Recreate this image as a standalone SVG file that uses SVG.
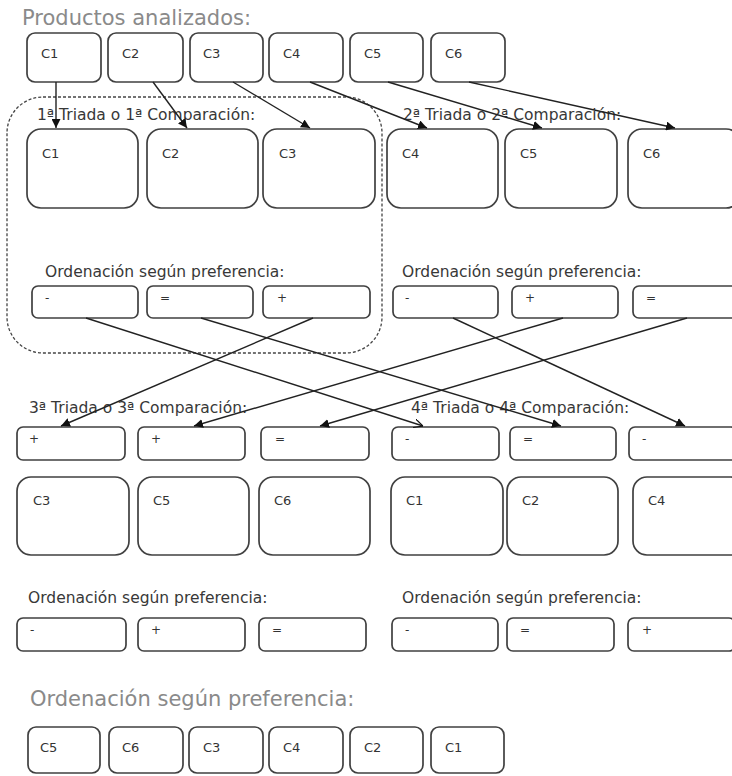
<svg xmlns="http://www.w3.org/2000/svg" width="732" height="776" viewBox="0 0 732 776">
<defs>
<style>
.box{fill:#fff;stroke:#404040;stroke-width:1.7}
.lbl{font-family:"DejaVu Sans",Verdana,sans-serif;font-size:13px;fill:#333}
.sym{font-family:"DejaVu Sans",Verdana,sans-serif;font-size:12px;fill:#333}
.hdr{font-family:"DejaVu Sans",Verdana,sans-serif;font-size:15.5px;fill:#383838}
.big{font-family:"DejaVu Sans",Verdana,sans-serif;font-size:21px;fill:#8a8a8a}
.con{stroke:#222;stroke-width:1.4;fill:none}
.grp{fill:none;stroke:#444;stroke-width:1.3;stroke-dasharray:3 2}
</style>
<marker id="ah" viewBox="0 0 10 10" refX="10" refY="5" markerWidth="9" markerHeight="9" markerUnits="userSpaceOnUse" orient="auto">
<path d="M0,0 L10,5 L0,10 z" fill="#111"/>
</marker>
<marker id="ao" viewBox="0 0 10 10" refX="10" refY="5" markerWidth="9" markerHeight="9" markerUnits="userSpaceOnUse" orient="auto">
<path d="M0,0 L10,5 L0,10" fill="none" stroke="#111" stroke-width="1.3"/>
</marker>
</defs>
<rect width="732" height="776" fill="#fff"/>

<text class="big" x="22" y="25">Productos analizados:</text>
<g id="p1"><rect class="box" x="27" y="33" width="74" height="49" rx="8"/><text class="lbl" x="41" y="58">C1</text></g>
<g id="p2"><rect class="box" x="108" y="33" width="75" height="49" rx="8"/><text class="lbl" x="122" y="58">C2</text></g>
<g id="p3"><rect class="box" x="190" y="33" width="73" height="49" rx="8"/><text class="lbl" x="203" y="58">C3</text></g>
<g id="p4"><rect class="box" x="269" y="33" width="74" height="49" rx="8"/><text class="lbl" x="283" y="58">C4</text></g>
<g id="p5"><rect class="box" x="350" y="33" width="73" height="49" rx="8"/><text class="lbl" x="364" y="58">C5</text></g>
<g id="p6"><rect class="box" x="431" y="33" width="74" height="49" rx="8"/><text class="lbl" x="445" y="58">C6</text></g>

<g id="grupo1"><rect class="grp" x="7" y="97" width="375" height="256" rx="36"/></g>

<text class="hdr" x="37" y="120">1ª Triada o 1ª Comparación:</text>
<text class="hdr" x="403" y="120">2ª Triada o 2ª Comparación:</text>

<g id="t1c1"><rect class="box" x="27" y="129" width="111" height="79" rx="14"/><text class="lbl" x="42" y="158">C1</text></g>
<g id="t1c2"><rect class="box" x="147" y="129" width="111" height="79" rx="14"/><text class="lbl" x="162" y="158">C2</text></g>
<g id="t1c3"><rect class="box" x="263" y="129" width="112" height="79" rx="14"/><text class="lbl" x="279" y="158">C3</text></g>
<g id="t2c4"><rect class="box" x="387" y="129" width="111" height="79" rx="14"/><text class="lbl" x="402" y="158">C4</text></g>
<g id="t2c5"><rect class="box" x="505" y="129" width="112" height="79" rx="14"/><text class="lbl" x="520" y="158">C5</text></g>
<g id="t2c6"><rect class="box" x="628" y="129" width="112" height="79" rx="14"/><text class="lbl" x="643" y="158">C6</text></g>

<text class="hdr" x="45" y="277">Ordenación según preferencia:</text>
<text class="hdr" x="402" y="277">Ordenación según preferencia:</text>

<g id="o1a"><rect class="box" x="32" y="286" width="106" height="32" rx="6"/><text class="sym" x="45" y="302">-</text></g>
<g id="o1b"><rect class="box" x="147" y="286" width="106" height="32" rx="6"/><text class="sym" x="160" y="302">=</text></g>
<g id="o1c"><rect class="box" x="263" y="286" width="107" height="32" rx="6"/><text class="sym" x="277" y="302">+</text></g>
<g id="o2a"><rect class="box" x="393" y="286" width="105" height="32" rx="6"/><text class="sym" x="405" y="302">-</text></g>
<g id="o2b"><rect class="box" x="512" y="286" width="106" height="32" rx="6"/><text class="sym" x="525" y="302">+</text></g>
<g id="o2c"><rect class="box" x="633" y="286" width="106" height="32" rx="6"/><text class="sym" x="646" y="302">=</text></g>

<text class="hdr" x="29" y="413">3ª Triada o 3ª Comparación:</text>
<text class="hdr" x="411" y="413">4ª Triada o 4ª Comparación:</text>

<g id="o3a"><rect class="box" x="17" y="427" width="108" height="33" rx="6"/><text class="sym" x="29" y="443">+</text></g>
<g id="o3b"><rect class="box" x="138" y="427" width="107" height="33" rx="6"/><text class="sym" x="151" y="443">+</text></g>
<g id="o3c"><rect class="box" x="261" y="427" width="108" height="33" rx="6"/><text class="sym" x="275" y="443">=</text></g>
<g id="o4a"><rect class="box" x="392" y="427" width="107" height="33" rx="6"/><text class="sym" x="405" y="443">-</text></g>
<g id="o4b"><rect class="box" x="510" y="427" width="106" height="33" rx="6"/><text class="sym" x="523" y="443">=</text></g>
<g id="o4c"><rect class="box" x="629" y="427" width="108" height="33" rx="6"/><text class="sym" x="642" y="443">-</text></g>

<g id="t3c3"><rect class="box" x="17" y="477" width="112" height="78" rx="14"/><text class="lbl" x="33" y="505">C3</text></g>
<g id="t3c5"><rect class="box" x="138" y="477" width="111" height="78" rx="14"/><text class="lbl" x="153" y="505">C5</text></g>
<g id="t3c6"><rect class="box" x="259" y="477" width="111" height="78" rx="14"/><text class="lbl" x="274" y="505">C6</text></g>
<g id="t4c1"><rect class="box" x="391" y="477" width="112" height="78" rx="14"/><text class="lbl" x="406" y="505">C1</text></g>
<g id="t4c2"><rect class="box" x="507" y="477" width="111" height="78" rx="14"/><text class="lbl" x="522" y="505">C2</text></g>
<g id="t4c4"><rect class="box" x="633" y="477" width="112" height="78" rx="14"/><text class="lbl" x="648" y="505">C4</text></g>

<text class="hdr" x="28" y="603">Ordenación según preferencia:</text>
<text class="hdr" x="402" y="603">Ordenación según preferencia:</text>

<g id="o5a"><rect class="box" x="17" y="618" width="109" height="33" rx="6"/><text class="sym" x="30" y="634">-</text></g>
<g id="o5b"><rect class="box" x="138" y="618" width="107" height="33" rx="6"/><text class="sym" x="151" y="634">+</text></g>
<g id="o5c"><rect class="box" x="259" y="618" width="107" height="33" rx="6"/><text class="sym" x="272" y="634">=</text></g>
<g id="o6a"><rect class="box" x="392" y="618" width="106" height="33" rx="6"/><text class="sym" x="405" y="634">-</text></g>
<g id="o6b"><rect class="box" x="507" y="618" width="107" height="33" rx="6"/><text class="sym" x="520" y="634">=</text></g>
<g id="o6c"><rect class="box" x="628" y="618" width="107" height="33" rx="6"/><text class="sym" x="642" y="634">+</text></g>

<text class="big" x="30" y="706">Ordenación según preferencia:</text>
<g id="f1"><rect class="box" x="28" y="727" width="72" height="46" rx="8"/><text class="lbl" x="40" y="752">C5</text></g>
<g id="f2"><rect class="box" x="109" y="727" width="74" height="46" rx="8"/><text class="lbl" x="122" y="752">C6</text></g>
<g id="f3"><rect class="box" x="189" y="727" width="74" height="46" rx="8"/><text class="lbl" x="203" y="752">C3</text></g>
<g id="f4"><rect class="box" x="269" y="727" width="74" height="46" rx="8"/><text class="lbl" x="283" y="752">C4</text></g>
<g id="f5"><rect class="box" x="350" y="727" width="73" height="46" rx="8"/><text class="lbl" x="364" y="752">C2</text></g>
<g id="f6"><rect class="box" x="431" y="727" width="73" height="46" rx="8"/><text class="lbl" x="445" y="752">C1</text></g>

<g id="connectors">
<line class="con" x1="56" y1="82" x2="56" y2="128" marker-end="url(#ah)"/>
<line class="con" x1="153" y1="82" x2="187" y2="128" marker-end="url(#ah)"/>
<line class="con" x1="233" y1="82" x2="310" y2="128" marker-end="url(#ah)"/>
<line class="con" x1="310" y1="82" x2="427" y2="128" marker-end="url(#ah)"/>
<line class="con" x1="388" y1="82" x2="542" y2="128" marker-end="url(#ah)"/>
<line class="con" x1="469" y1="82" x2="675" y2="128" marker-end="url(#ah)"/>
<line class="con" x1="86" y1="318" x2="423" y2="426" marker-end="url(#ao)"/>
<line class="con" x1="201" y1="318" x2="561" y2="426" marker-end="url(#ah)"/>
<line class="con" x1="313" y1="318" x2="61" y2="426" marker-end="url(#ah)"/>
<line class="con" x1="453" y1="318" x2="685" y2="426" marker-end="url(#ah)"/>
<line class="con" x1="563" y1="318" x2="194" y2="426" marker-end="url(#ah)"/>
<line class="con" x1="687" y1="318" x2="320" y2="426" marker-end="url(#ah)"/>
</g>
</svg>
